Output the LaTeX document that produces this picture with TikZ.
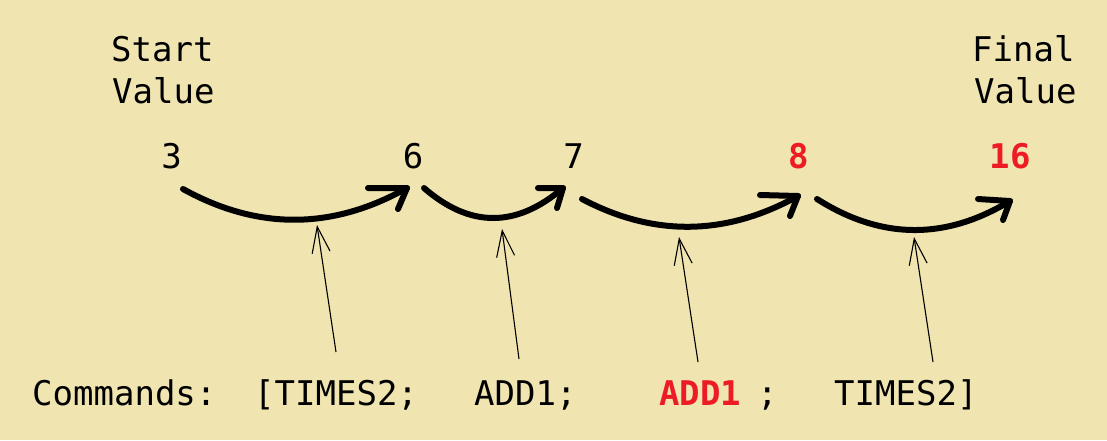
\documentclass[tikz,border=0pt]{standalone}
\usepackage{fontspec}
\setmonofont{DejaVu Sans Mono}
\usetikzlibrary{arrows.meta}
\definecolor{bg}{RGB}{240,228,177}
\definecolor{redtxt}{RGB}{237,28,36}
\begin{document}
\begin{tikzpicture}[x=1pt,y=-1pt,
  txt/.style={inner sep=0pt, font=\fontsize{34pt}{40pt}\selectfont\ttfamily},
  redbold/.style={txt, text=redtxt, font=\fontsize{34pt}{40pt}\selectfont\ttfamily\bfseries},
  curve/.style={line width=6pt, line cap=round, line join=round},
  pointer/.style={line width=1.1pt, -{Straight Barb[length=26pt,width=18pt,line width=1.1pt]}}]
\fill[bg] (0,0) rectangle (1107,440);
\useasboundingbox (0,0) rectangle (1107,440);

% top labels
\node[txt, anchor=base west] (start1) at (111,61) {Start};
\node[txt, anchor=base west] (start2) at (112,103) {Value};
\node[txt, anchor=base west] (final1) at (972,61) {Final};
\node[txt, anchor=base west] (final2) at (974,103) {Value};

% values
\node[txt, anchor=base] (v3) at (171.5,168) {3};
\node[txt, anchor=base] (v6) at (413,168) {6};
\node[txt, anchor=base] (v7) at (573.5,168) {7};
\node[redbold, anchor=base] (v8) at (799,168) {8};
\node[redbold, anchor=base] (v16) at (1010,168) {16};

% commands
\node[txt, anchor=base west] (cmd) at (32,405) {Commands:};
\node[txt, anchor=base west] (c1) at (254,405) {[TIMES2;};
\node[txt, anchor=base west] (c2) at (474,405) {ADD1;};
\node[redbold, anchor=base west] (c3) at (659,405) {ADD1};
\node[txt, anchor=base west] (c3s) at (757,405) {;};
\node[txt, anchor=base west] (c4) at (834,405) {TIMES2]};

% curve end points
\coordinate (s1) at (183,189); \coordinate (e1) at (407,188);
\coordinate (s2) at (424,188); \coordinate (e2) at (563,188);
\coordinate (s3) at (582,199); \coordinate (e3) at (798,196);
\coordinate (s4) at (817,199); \coordinate (e4) at (1010,201);

\draw[curve] (s1) .. controls (257.7,230.3) and (332.3,230) .. (e1);
\draw[curve] (368,188) -- (e1) -- (398,209);
\draw[curve] (s2) .. controls (470,228) and (516.3,228) .. (e2);
\draw[curve] (538,188) -- (e2) -- (557,208);
\draw[curve] (s3) .. controls (654,237) and (726,236) .. (e3);
\draw[curve] (760,195) -- (e3) -- (790,216);
\draw[curve] (s4) .. controls (881,239.7) and (945.3,240.3) .. (e4);
\draw[curve] (978,199) -- (e4) -- (1003,220);

% pointers
\coordinate (t1) at (336,352); \coordinate (h1) at (317,225);
\coordinate (t2) at (519,359); \coordinate (h2) at (502,229);
\coordinate (t3) at (698,362); \coordinate (h3) at (679,237);
\coordinate (t4) at (933,362); \coordinate (h4) at (914,237);
\draw[pointer] (t1) -- (h1);
\draw[pointer] (t2) -- (h2);
\draw[pointer] (t3) -- (h3);
\draw[pointer] (t4) -- (h4);
\end{tikzpicture}
\end{document}
